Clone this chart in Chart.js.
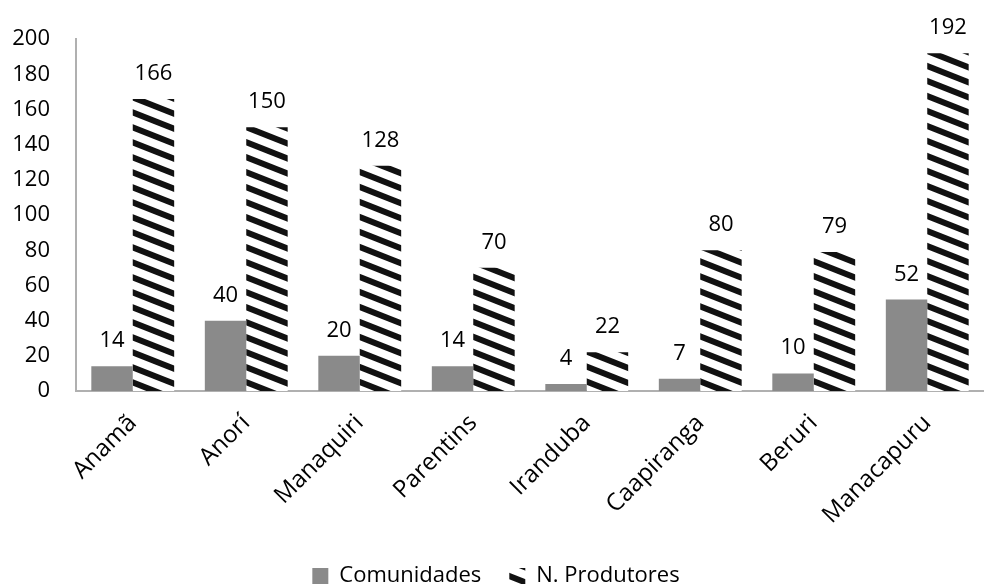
<!DOCTYPE html>
<html>
<head>
<meta charset="utf-8">
<script src="https://cdn.jsdelivr.net/npm/chart.js@4"></script>
<style>
  body { margin: 0; background: #fff; }
  #caja { width: 984px; height: 584px; }
</style>
</head>
<body>
<div id="caja"><canvas id="myChart"></canvas></div>
<script>
// Dados do gráfico
const municipios = ['Anamã', 'Anorí', 'Manaquiri', 'Parentins', 'Iranduba', 'Caapiranga', 'Beruri', 'Manacapuru'];
const comunidades = [14, 40, 20, 14, 4, 7, 10, 52];
const produtores = [166, 150, 128, 70, 22, 80, 79, 192];
const ticksY = [0, 20, 40, 60, 80, 100, 120, 140, 160, 180, 200];

const fuente = "'Open Sans', sans-serif";

// Patrón de rayas diagonales para N. Produtores
function rayado(){
    const c = document.createElement('canvas');
    c.width = 38;
    c.height = 15;
    const g = c.getContext('2d');
    g.fillStyle = '#fff';
    g.fillRect(0, 0, 38, 15);
    g.strokeStyle = '#111';
    g.lineWidth = 6;
    for (let d = -15; d <= 15; d += 15){
        g.beginPath();
        g.moveTo(-4, d - 1.58);
        g.lineTo(42, d + 16.58);
        g.stroke();
    }
    return g.createPattern(c, 'repeat');
}

// Escribe el valor encima de cada barra
const etiquetas = {
    id: 'etiquetas',
    afterDatasetsDraw(chart){
        const ctx = chart.ctx;
        ctx.save();
        ctx.font = '22px ' + fuente;
        ctx.fillStyle = '#000';
        ctx.textAlign = 'center';
        ctx.textBaseline = 'alphabetic';
        chart.data.datasets.forEach((ds, i) => {
            chart.getDatasetMeta(i).data.forEach((bar, j) => {
                ctx.fillText(ds.data[j], bar.x, bar.y - 19);
            });
        });
        ctx.restore();
    }
};

const ctx = document.getElementById('myChart');

new Chart(ctx, {
    type: 'bar',
    data: {
        labels: municipios,
        datasets: [{
            label: 'Comunidades',
            data: comunidades,
            backgroundColor: '#8a8a8a',
            barPercentage: 1,
            categoryPercentage: 0.73
        },
        {
            label: 'N. Produtores',
            data: produtores,
            backgroundColor: rayado(),
            barPercentage: 1,
            categoryPercentage: 0.73
        }]
    },
    options: {
        responsive: true,
        maintainAspectRatio: false,
        animation: false,
        layout: { padding: { left: 0, right: -8, top: 34, bottom: -13 } },
        plugins: {
            tooltip: { enabled: false },
            legend: {
                position: 'bottom',
                labels: {
                    font: { family: fuente, size: 22 },
                    color: '#000',
                    boxWidth: 16,
                    boxHeight: 16,
                    padding: 28
                }
            }
        },
        scales: {
            x: {
                grid: { display: false, drawTicks: false },
                border: { color: '#b0b0b0', width: 2 },
                ticks: {
                    font: { family: fuente, size: 24 },
                    color: '#000',
                    minRotation: 45,
                    maxRotation: 45,
                    padding: 18
                },
                afterFit(scale){ scale.height = 146; }
            },
            y: {
                min: 0,
                max: 200,
                grid: { display: false, drawTicks: false },
                border: { color: '#b0b0b0', width: 2 },
                afterBuildTicks(scale){ scale.ticks = ticksY.map(v => ({ value: v })); },
                ticks: {
                    font: { family: fuente, size: 22 },
                    color: '#000',
                    padding: 26
                },
                afterFit(scale){ scale.width = 76; }
            }
        }
    },
    plugins: [etiquetas]
});
</script>
</body>
</html>
